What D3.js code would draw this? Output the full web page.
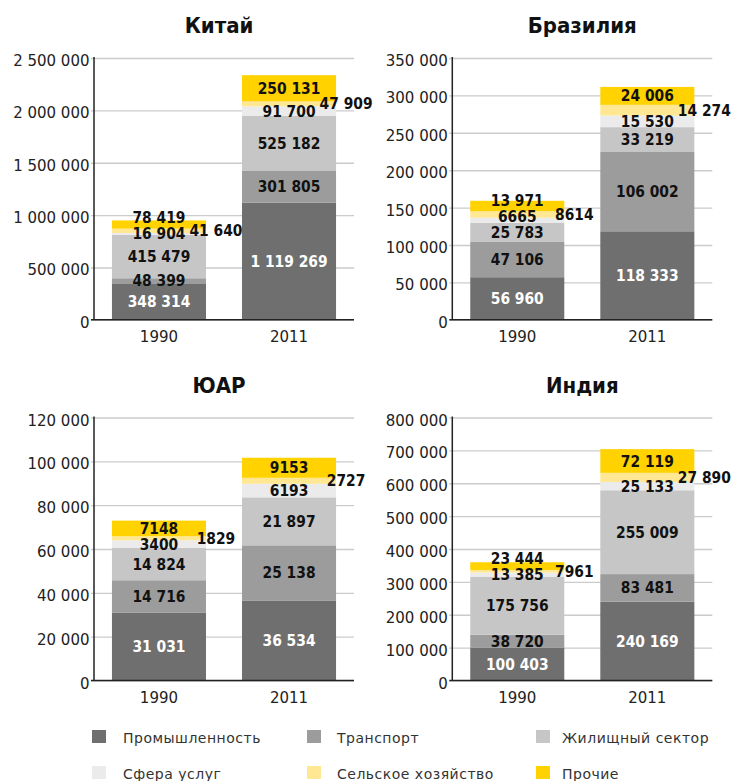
<!DOCTYPE html>
<html><head><meta charset="utf-8">
<script src="https://cdn.jsdelivr.net/npm/d3@7"></script>
<style>body{margin:0;background:#fff}</style></head>
<body><svg id="c" width="734" height="781"></svg>
<script>
// ---- data ----
const years = ["1990", "2011"];
const sectors = ["Промышленность", "Транспорт", "Жилищный сектор", "Сфера услуг", "Сельское хозяйство", "Прочие"];
const countries = ["Китай", "Бразилия", "ЮАР", "Индия"];
const china1990 = [348314, 48399, 415479, 16904, 41640, 78419];
const china2011 = [1119269, 301805, 525182, 91700, 47909, 250131];
const brazil1990 = [56960, 47106, 25783, 6665, 8614, 13971];
const brazil2011 = [118333, 106002, 33219, 15530, 14274, 24006];
const sa1990 = [31031, 14716, 14824, 3400, 1829, 7148];
const sa2011 = [36534, 25138, 21897, 6193, 2727, 9153];
const india1990 = [100403, 38720, 175756, 13385, 7961, 23444];
const india2011 = [240169, 83481, 255009, 25133, 27890, 72119];
const axisMax = [2500000, 350000, 120000, 800000];
const tickSteps = [500000, 50000, 20000, 100000];

// ---- styles ----
const colors = ["#6f6f6f", "#9c9c9c", "#c5c6c5", "#ebebeb", "#ffe793", "#ffd200"];
const countryData = [[china1990, china2011], [brazil1990, brazil2011], [sa1990, sa2011], [india1990, india2011]];

const svg = d3.select("#c");
const loc = d3.formatLocale({decimal: ",", thousands: "\u00a0", grouping: [3], currency: ["", ""]});
const fmtTick = loc.format(",d");
const fmtVal = v => v >= 10000 ? loc.format(",d")(v) : String(v);

const PW = 260;
countries.forEach((name, i) => {
  const L = i % 2 ? 452.3 : 94;
  const T = i < 2 ? 58 : 417.5;
  const B = i < 2 ? 319.8 : 680.5;
  const R = L + PW;
  const y = d3.scaleLinear().domain([0, axisMax[i]]).range([B, T]);
  const x = d3.scaleBand().domain(years).range([L, R]).paddingInner(0.277).paddingOuter(0.138);
  const g = svg.append("g");

  // grid + ticks
  const ticks = d3.range(0, axisMax[i] + 1, tickSteps[i]);
  const ax = g.append("g").attr("transform", `translate(${L - 3},0)`)
    .call(d3.axisLeft(y).tickValues(ticks).tickSizeInner(-(R - L + 3)).tickSizeOuter(0).tickPadding(1.5).tickFormat(fmtTick));
  ax.select(".domain").remove();
  ax.selectAll(".tick line").attr("stroke", "#cbcbcb").attr("stroke-width", 1.4);
  ax.selectAll(".tick text").attr("font-family", "DejaVu Sans").attr("font-size", 15)
    .attr("fill", "#222").attr("dy", "0.5em");

  // stacked bars
  const rows = years.map((yr, j) => {
    const o = {year: yr};
    sectors.forEach((s, k) => o[s] = countryData[i][j][k]);
    return o;
  });
  const stack = d3.stack().keys(sectors)(rows);
  stack.forEach((layer, k) => {
    g.selectAll(null).data(layer).enter().append("rect")
      .attr("x", d => x(d.data.year))
      .attr("width", x.bandwidth())
      .attr("y", d => y(d[1]))
      .attr("height", d => y(d[0]) - y(d[1]))
      .attr("fill", colors[k]);
  });

  // axes lines
  g.append("line").attr("x1", L).attr("x2", L).attr("y1", T - 1).attr("y2", B)
    .attr("stroke", "#222").attr("stroke-width", 1.5);
  g.append("line").attr("x1", L - 3).attr("x2", R).attr("y1", B).attr("y2", B)
    .attr("stroke", "#222").attr("stroke-width", 1.5);

  // x labels
  years.forEach(yr => {
    g.append("text").attr("x", x(yr) + x.bandwidth() / 2).attr("y", B + 22.5)
      .attr("text-anchor", "middle").attr("font-family", "DejaVu Sans").attr("font-size", 15)
      .attr("fill", "#222").text(yr);
  });

  // value labels
  years.forEach((yr, j) => {
    const cx = x(yr) + x.bandwidth() / 2;
    let prev = null;
    const gap = 16;
    sectors.forEach((s, k) => {
      const d = stack[k][j];
      let cy = (y(d[0]) + y(d[1])) / 2;
      let tx = cx;
      if (k === 4) {
        tx = x(yr) + x.bandwidth() + 10;
      } else {
        if (prev !== null && cy > prev - gap) cy = prev - gap;
        prev = cy;
      }
      g.append("text").attr("x", tx).attr("y", cy).attr("dy", "0.36em")
        .attr("text-anchor", "middle")
        .attr("font-family", "DejaVu Sans Condensed").attr("font-weight", "bold")
        .attr("font-size", 15.4)
        .attr("fill", k === 0 ? "#ffffff" : "#111111")
        .text(fmtVal(d.data[s]));
    });
  });

  // title
  g.append("text").attr("x", L + PW / 2 - (i % 2 ? 0 : 5)).attr("y", T - 25)
    .attr("text-anchor", "middle").attr("font-family", "DejaVu Sans Condensed")
    .attr("font-weight", "bold").attr("font-size", 22).attr("fill", "#111").text(name);
});

// legend
const legX = [92, 307, 536];
const legTX = [123, 337, 562];
const legY = [743, 779];
sectors.forEach((s, k) => {
  const c = k % 3, r = Math.floor(k / 3);
  svg.append("rect").attr("x", legX[c]).attr("y", legY[r] - 13).attr("width", 14).attr("height", 13)
    .attr("fill", colors[k]);
  svg.append("text").attr("x", legTX[c]).attr("y", legY[r])
    .attr("font-family", "DejaVu Sans").attr("font-size", 14).attr("letter-spacing", 0.5)
    .attr("fill", "#333").text(s);
});
</script></body></html>
